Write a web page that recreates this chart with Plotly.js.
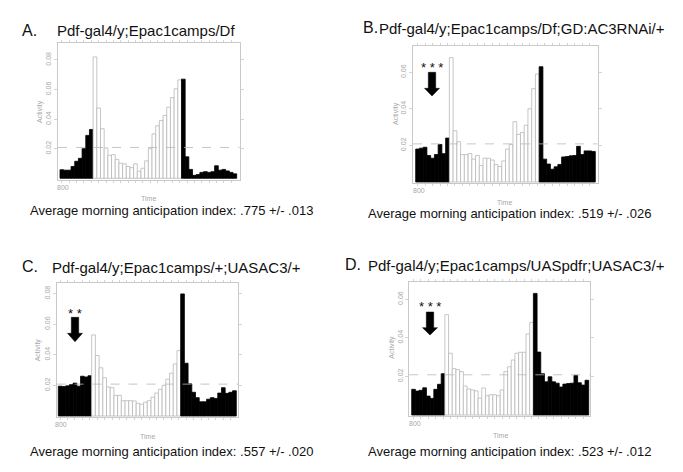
<!DOCTYPE html>
<html><head><meta charset="utf-8">
<script src="https://cdn.plot.ly/plotly-3.0.1.min.js"></script>
<style>html,body{margin:0;padding:0;background:#fff}#chart{width:683px;height:472px}</style>
</head><body><div id="chart"></div>
<script>
// ---- data: 48 half-hour bins, lights on from bin 9 to bin 32 ----
const lightsOnBin = 9;
const lightsOffBin = 33;

const actA = [0.0058, 0.0055, 0.0055, 0.008, 0.0115, 0.0135, 0.020, 0.029, 0.033,
  0.082, 0.0475, 0.0335, 0.0205, 0.0155, 0.016, 0.0128, 0.0102, 0.0098, 0.008, 0.0072, 0.0098,
  0.0047, 0.0068, 0.0118, 0.020, 0.030, 0.0355, 0.039, 0.0425, 0.048, 0.0545, 0.0605, 0.0665,
  0.067, 0.0145, 0.006, 0.002, 0.0025, 0.004, 0.0045, 0.004, 0.0045, 0.0085, 0.0055, 0.006, 0.005, 0.004, 0.003];

const actB = [0.018, 0.0185, 0.019, 0.0145, 0.013, 0.015, 0.0205, 0.0155, 0.024,
  0.068, 0.028, 0.022, 0.015, 0.015, 0.0155, 0.0125, 0.0145, 0.009, 0.013, 0.013, 0.012,
  0.0095, 0.0085, 0.0115, 0.018, 0.0205, 0.033, 0.026, 0.027, 0.031, 0.040, 0.051, 0.059,
  0.063, 0.0125, 0.0098, 0.007, 0.0083, 0.0096, 0.0137, 0.0139, 0.0143, 0.0145, 0.0195, 0.015, 0.017, 0.017, 0.0167];

const actC = [0.0195, 0.0192, 0.0197, 0.0205, 0.0215, 0.0195, 0.026, 0.0255, 0.0263,
  0.053, 0.0395, 0.0315, 0.025, 0.019, 0.0185, 0.0135, 0.0135, 0.0100, 0.0100, 0.0100, 0.0098,
  0.0083, 0.0077, 0.009, 0.010, 0.0123, 0.015, 0.0175, 0.020, 0.024, 0.028, 0.034, 0.0427,
  0.0798, 0.0345, 0.021, 0.0155, 0.012, 0.0093, 0.0093, 0.011, 0.012, 0.0115, 0.015, 0.0185, 0.0148, 0.0155, 0.0165];

const actD = [0.0133, 0.0124, 0.0128, 0.0141, 0.0098, 0.0086, 0.0133, 0.0159, 0.0214,
  0.052, 0.032, 0.024, 0.0235, 0.0225, 0.015, 0.0135, 0.013, 0.0125, 0.0088, 0.014, 0.010,
  0.0105, 0.0105, 0.010, 0.013, 0.0225, 0.025, 0.0285, 0.032, 0.0325, 0.0325, 0.042, 0.048,
  0.063, 0.0326, 0.0214, 0.0172, 0.0198, 0.0172, 0.0165, 0.0145, 0.016, 0.0163, 0.0165, 0.0205, 0.0167, 0.0155, 0.018];

const meanLevel = 1 / 48;
const panelLetters = ['A.', 'B.', 'C.', 'D.'];
const genotypes = ['Pdf-gal4/y;Epac1camps/Df',
  'Pdf-gal4/y;Epac1camps/Df;GD:AC3RNAi/+',
  'Pdf-gal4/y;Epac1camps/+;UASAC3/+',
  'Pdf-gal4/y;Epac1camps/UASpdfr;UASAC3/+'];
const indexTexts = ['Average morning anticipation index: .775 +/- .013',
  'Average morning anticipation index: .519 +/- .026',
  'Average morning anticipation index: .557 +/- .020',
  'Average morning anticipation index: .523 +/- .012'];
const significance = ['', '* * *', '* *', '* * *'];
const yTicksA = [0.02, 0.04, 0.06, 0.08];
const yTicksB = [0.02, 0.04, 0.06];
const yTicksC = [0.02, 0.04, 0.06, 0.08];
const yTicksD = [0.02, 0.04, 0.06];
const startLabel = '800';
const xLabel = 'Time';
const yLabel = 'Activity';

// ---- layout geometry (pixels) ----
const W = 683, H = 472;
const px = x => x / W, py = y => 1 - y / H;
const FONT = 'Arial, "Liberation Sans", Helvetica, sans-serif';
const geo = [
  {frame: [58, 43.3, 239.5, 179.5], bars: [60, 236.7], zero: 178.3, per01: 14.8,
   letter: [20, 30], title: [55, 30.5], index: [171, 210.5], time: [148, 198.5], act: [40, 112], star: [0, 0], arrow: null},
  {frame: [413, 46, 597.5, 183.3], bars: [415.7, 595.3], zero: 182, per01: 18.3,
   letter: [361, 28], title: [377, 28.5], index: [509.5, 213], time: [504, 202], act: [396, 114], star: [432, 67.5],
   arrow: [432, 72.3, 88.3, 96]},
  {frame: [56.5, 282.7, 238.3, 417.3], bars: [58.3, 236.3], zero: 416, per01: 15.3,
   letter: [20, 266], title: [50, 267], index: [171.5, 451.5], time: [147, 436.5], act: [38.3, 350], star: [75, 313.5],
   arrow: [75, 317.3, 333.3, 341.7]},
  {frame: [409.3, 281.7, 590.3, 416.3], bars: [411.7, 588.7], zero: 415, per01: 19.3,
   letter: [343.5, 264], title: [366, 265], index: [509, 451], time: [500, 435], act: [391.7, 347], star: [430.3, 306.5],
   arrow: [430, 312, 327.7, 335]}
];

const series = [actA, actB, actC, actD];
const yTicks = [yTicksA, yTicksB, yTicksC, yTicksD];
const nBins = actA.length;
const binIdx = actA.map((_, i) => i + 0.5);
const isLight = i => i >= lightsOnBin && i < lightsOffBin;
const hourTicks = [];
for (let i = 0; i < nBins; i += 2) hourTicks.push(i + 0.5);

const traces = [], shapes = [], annotations = [];
const layout = {
  width: W, height: H, margin: {l: 0, r: 0, t: 0, b: 0},
  paper_bgcolor: '#fff', plot_bgcolor: '#fff', showlegend: false,
  bargap: 0, font: {family: FONT}
};
const GRID = '#c9c9c9', TXT = '#a8a8a8';

geo.forEach((g, p) => {
  const sfx = p === 0 ? '' : String(p + 1);
  const xa = 'x' + sfx, ya = 'y' + sfx;
  const bw = (g.bars[1] - g.bars[0]) / nBins;
  const xr = [-(g.bars[0] - g.frame[0]) / bw, nBins + (g.frame[2] - g.bars[1]) / bw];
  const yr = [-(g.frame[3] - g.zero) / g.per01 * 0.01, (g.zero - g.frame[1]) / g.per01 * 0.01];
  const vals = series[p];
  traces.push({
    type: 'bar', x: binIdx, y: vals, width: 1, xaxis: xa, yaxis: ya,
    marker: {color: vals.map((_, i) => isLight(i) ? '#ffffff' : '#000000'),
             line: {color: vals.map((_, i) => isLight(i) ? '#b8b8b8' : '#000000'), width: 0.8}},
    hoverinfo: 'x+y'
  });
  layout['xaxis' + sfx] = {
    domain: [px(g.frame[0]), px(g.frame[2])], range: xr, anchor: ya,
    tickvals: hourTicks, showticklabels: false, ticks: 'outside', ticklen: 2, tickcolor: GRID, tickwidth: 0.8,
    showline: true, linecolor: GRID, linewidth: 1, mirror: 'ticks', showgrid: false, zeroline: false, fixedrange: true
  };
  layout['yaxis' + sfx] = {
    domain: [py(g.frame[3]), py(g.frame[1])], range: yr, anchor: xa,
    tickvals: yTicks[p], tickformat: '.2f', tickangle: -90, ticks: 'outside', ticklen: 3, tickcolor: GRID, tickwidth: 0.8,
    tickfont: {size: 7, color: TXT, family: FONT},
    showline: true, linecolor: GRID, linewidth: 1, mirror: 'ticks', showgrid: false, zeroline: false, fixedrange: true
  };
  shapes.push({type: 'line', xref: xa + ' domain', yref: ya, x0: 0, x1: 1, y0: meanLevel, y1: meanLevel,
    line: {color: '#b8b8b8', width: 0.8, dash: 'dash'}, layer: 'above'});
  // text
  annotations.push({xref: 'paper', yref: 'paper', x: px(g.letter[0]), y: py(g.letter[1]), xanchor: 'left', yanchor: 'middle',
    text: panelLetters[p], showarrow: false, font: {size: 16, color: '#111', family: FONT}});
  annotations.push({xref: 'paper', yref: 'paper', x: px(g.title[0]), y: py(g.title[1]), xanchor: 'left', yanchor: 'middle',
    text: genotypes[p], showarrow: false, font: {size: 15, color: '#111', family: FONT}});
  annotations.push({xref: 'paper', yref: 'paper', x: px(g.index[0]), y: py(g.index[1]), xanchor: 'center', yanchor: 'middle',
    text: indexTexts[p], showarrow: false, font: {size: 13, color: '#111', family: FONT}});
  annotations.push({xref: 'paper', yref: 'paper', x: px(g.time[0]), y: py(g.time[1]), xanchor: 'center', yanchor: 'middle',
    text: xLabel, showarrow: false, font: {size: 7, color: TXT, family: FONT}});
  annotations.push({xref: 'paper', yref: 'paper', x: px(g.act[0]), y: py(g.act[1]), xanchor: 'center', yanchor: 'middle',
    text: yLabel, textangle: -90, showarrow: false, font: {size: 7, color: TXT, family: FONT}});
  annotations.push({xref: xa, yref: 'paper', x: binIdx[0] + 0.3, y: py(g.frame[3] + 2), xanchor: 'center', yanchor: 'top',
    text: startLabel, showarrow: false, font: {size: 7, color: TXT, family: FONT}});
  if (significance[p]) {
    annotations.push({xref: 'paper', yref: 'paper', x: px(g.star[0]), y: py(g.star[1]), xanchor: 'center', yanchor: 'middle',
      text: significance[p], showarrow: false, font: {size: 13, color: '#111', family: FONT}});
    const [cx, top, hs, tip] = g.arrow;
    const sh = 3.7, hh = 7.5;
    const pts = [[cx - sh, top], [cx + sh, top], [cx + sh, hs], [cx + hh, hs], [cx, tip], [cx - hh, hs], [cx - sh, hs]];
    const path = 'M ' + pts.map(q => px(q[0]) + ',' + py(q[1])).join(' L ') + ' Z';
    shapes.push({type: 'path', xref: 'paper', yref: 'paper', path: path, fillcolor: '#000', line: {color: '#000', width: 0.5}});
  }
});
layout.shapes = shapes;
layout.annotations = annotations;
Plotly.newPlot('chart', traces, layout, {displayModeBar: false, staticPlot: true});
</script></body></html>
